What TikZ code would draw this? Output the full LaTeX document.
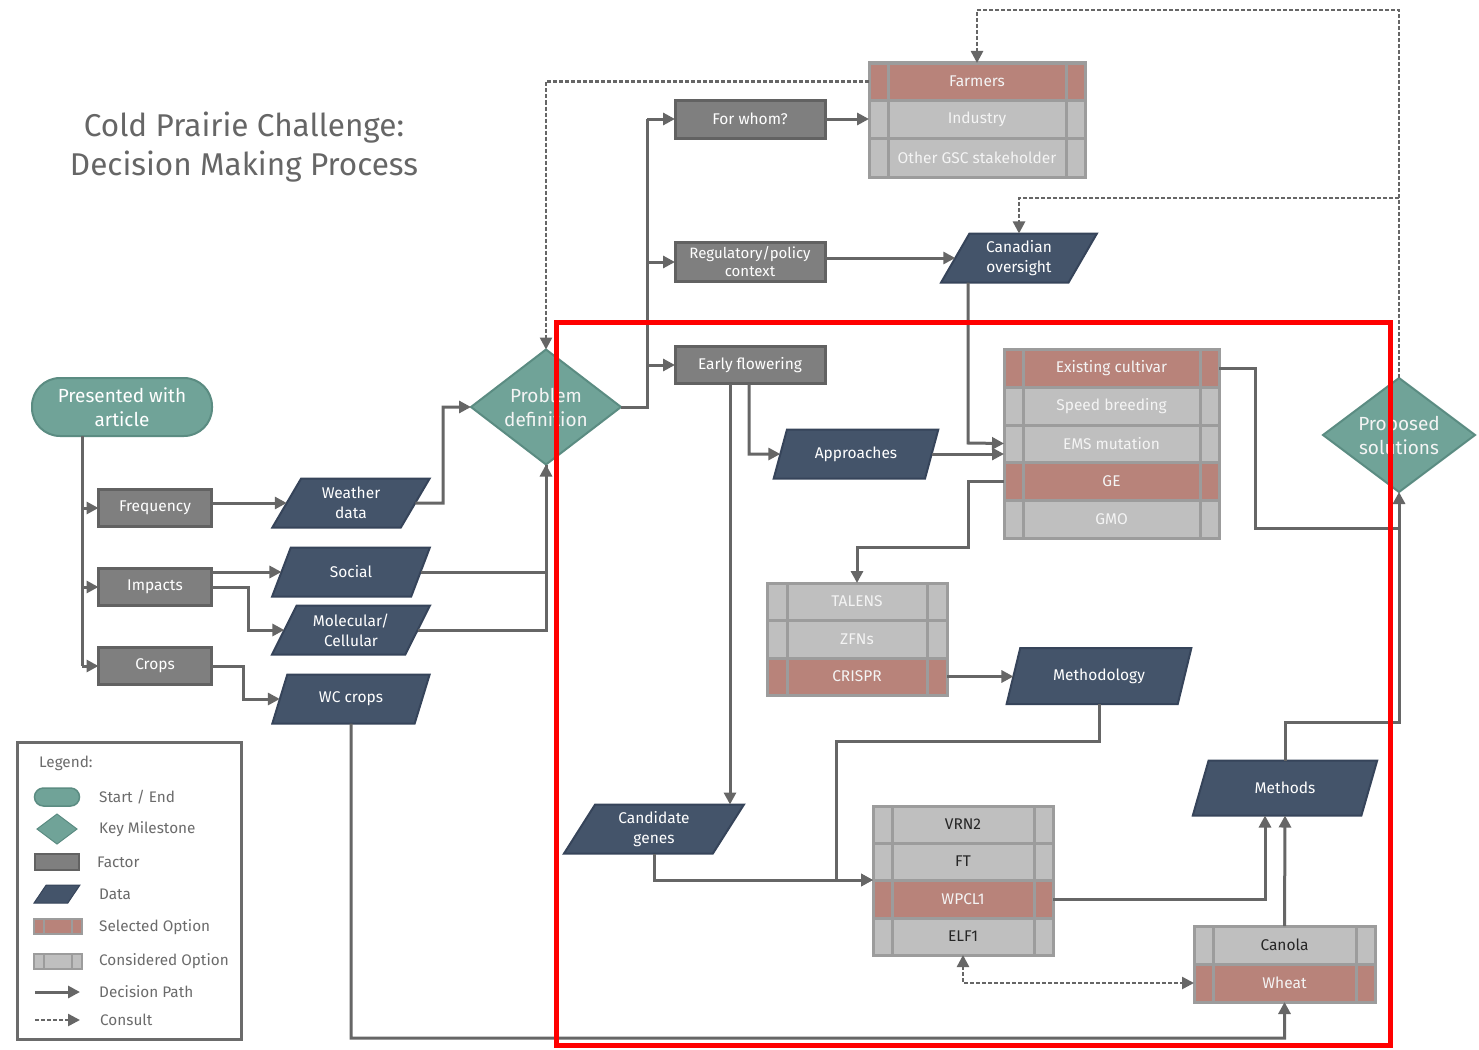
\documentclass[tikz,border=0pt]{standalone}
\usepackage{fontspec}
\setmainfont{Fira Sans}
\usetikzlibrary{shapes.geometric,shapes.misc,arrows.meta,calc}
\definecolor{cTeal}{HTML}{70A398}
\definecolor{cTealD}{HTML}{5B8C82}
\definecolor{cFac}{HTML}{7F7F7F}
\definecolor{cFacD}{HTML}{626262}
\definecolor{cData}{HTML}{44546A}
\definecolor{cDataD}{HTML}{36445A}
\definecolor{cSel}{HTML}{B8837A}
\definecolor{cCons}{HTML}{BFBFBF}
\definecolor{cBord}{HTML}{9C9C9C}
\definecolor{cLine}{HTML}{666666}
\definecolor{cTitle}{HTML}{666666}
\definecolor{cLeg}{HTML}{6B6B6B}
\definecolor{cTxtL}{HTML}{F4F4F4}
\definecolor{cTxtD}{HTML}{262626}
\newcommand{\optrow}[8]{%
  \node[#2, minimum width={(#4-#3-2*#7)*1pt}, minimum height={(#6-#5)*1pt}] (#1) at ({(#3+#4)/2},{(#5+#6)/2}) {#8};
  \node[#2, minimum width={#7*1pt}, minimum height={(#6-#5)*1pt}] (#1L) at ({#3+#7/2},{(#5+#6)/2}) {};
  \node[#2, minimum width={#7*1pt}, minimum height={(#6-#5)*1pt}] (#1R) at ({#4-#7/2},{(#5+#6)/2}) {};
}
\tikzset{
  base/.style={font=\fontsize{15.5}{20}\selectfont, align=center, inner sep=0pt, outer sep=0pt},
  startend/.style={base, rectangle, rounded corners=28pt, fill=cTeal, draw=cTealD, line width=2pt, text=white, font=\fontsize{19}{24}\selectfont, minimum width=180pt, minimum height=58pt},
  milestone/.style={base, diamond, shape aspect=1.3, fill=cTeal, draw=cTealD, line width=2pt, text=cTxtL, font=\fontsize{19}{24}\selectfont, minimum width=150pt, minimum height=115pt},
  factorbox/.style={base, rectangle, fill=cFac, draw=cFacD, line width=3pt, text=white, minimum width=113pt, minimum height=37pt},
  datab/.style={base, trapezium, trapezium left angle=62, trapezium right angle=118, trapezium stretches=true, fill=cData, draw=cDataD, line width=2pt, text=white, minimum width=156pt, minimum height=49pt},
  selrow/.style={base, rectangle, fill=cSel, draw=cBord, line width=3pt, text=cTxtL},
  consrow/.style={base, rectangle, fill=cCons, draw=cBord, line width=3pt, text=cTxtL},
  consdark/.style={consrow, text=cTxtD},
  wire/.style={draw=cLine, line width=3pt},
  arr/.style={wire, -{Triangle[length=12pt,width=12pt]}},
  consult/.style={draw=cLine, line width=2.5pt, dash pattern=on 4pt off 2pt, -{Triangle[length=12pt,width=12pt]}},
  legtext/.style={anchor=west, inner sep=0pt, text=cLeg, font=\fontsize{15.3}{18}\selectfont},
}
\begin{document}
\begin{tikzpicture}[x=1pt,y=-1pt]
\fill[white] (0,0) rectangle (1479,1049);
\useasboundingbox (0,0) rectangle (1479,1049);

% title
\node[font=\fontsize{31.5}{39}\selectfont, text=cTitle, align=center, inner sep=0pt] (title) at (244,147) {Cold Prairie Challenge:\\Decision Making Process};

% left part
\node[startend] (start) at (122,407) {Presented with\\article};
\node[factorbox] (freq) at (155,508) {Frequency};
\node[factorbox] (impacts) at (155,587) {Impacts};
\node[factorbox] (crops) at (155,666) {Crops};
\node[datab, minimum width=158pt] (wdata) at (351,503) {Weather\\data};
\node[datab, minimum width=158pt] (social) at (351,572) {Social};
\node[datab, minimum width=158pt] (mol) at (351,630) {Molecular/\\Cellular};
\node[datab, minimum width=158pt] (wc) at (351,699) {WC crops};

\node[milestone] (pd) at (546,407) {Problem\\definition};

\node[factorbox, minimum width=150pt, minimum height=38pt] (forwhom) at (750,119) {For whom?};
\node[factorbox, minimum width=150pt, minimum height=39pt, font=\fontsize{15}{18}\selectfont] (reg) at (750,262) {Regulatory/policy\\context};
\node[factorbox, minimum width=150pt, minimum height=37pt] (early) at (750,365) {Early flowering};

% stakeholder table
\optrow{farmers}{selrow}{869}{1085}{63}{100}{19}{Farmers}
\optrow{industry}{consrow}{869}{1085}{100}{138}{19}{Industry}
\optrow{other}{consrow}{869}{1085}{138}{177}{19}{Other GSC stakeholder}

\node[datab] (canada) at (1019,258) {Canadian\\oversight};
\node[datab, minimum width=166pt] (appr) at (856,454) {Approaches};

% approaches table
\optrow{excult}{selrow}{1004}{1219}{349}{387}{19}{Existing cultivar}
\optrow{speed}{consrow}{1004}{1219}{387}{425}{19}{Speed breeding}
\optrow{ems}{consrow}{1004}{1219}{425}{462}{19}{EMS mutation}
\optrow{ge}{selrow}{1004}{1219}{462}{500}{19}{GE}
\optrow{gmo}{consrow}{1004}{1219}{500}{538}{19}{GMO}

% editing tools table
\optrow{talens}{consrow}{767}{947}{583}{620}{20}{TALENS}
\optrow{zfns}{consrow}{767}{947}{620}{658}{20}{ZFNs}
\optrow{crispr}{selrow}{767}{947}{658}{695}{20}{CRISPR}

\node[datab, minimum width=185pt, minimum height=56pt] (mdl) at (1099,676) {Methodology};
\node[datab, minimum width=180pt] (cand) at (654,829) {Candidate\\genes};

% genes table
\optrow{vrn}{consdark}{873}{1053}{806}{843}{19}{VRN2}
\optrow{ft}{consdark}{873}{1053}{843}{880}{19}{FT}
\optrow{wpcl}{selrow}{873}{1053}{880}{918}{19}{WPCL1}
\optrow{elf}{consdark}{873}{1053}{918}{955}{19}{ELF1}

\node[datab, minimum width=185pt, minimum height=55pt] (methods) at (1285,788) {Methods};

% crop table
\optrow{canola}{consdark}{1194}{1375}{926}{964}{19}{Canola}
\optrow{wheat}{selrow}{1194}{1375}{964}{1002}{19}{Wheat}

\node[milestone, minimum width=152pt, minimum height=114pt] (ps) at (1399,435) {Proposed\\solutions};

% ---------- connectors ----------
\coordinate (trunk) at (82,666);
\draw[wire] (start.south -| trunk) -- (trunk);
\draw[arr] (freq.west -| trunk) -- (freq.west);
\draw[arr] (impacts.west -| trunk) -- (impacts.west);
\draw[arr] (crops.west -| trunk) -- (crops.west);

\draw[arr] (wdata.west -| freq.east) -- (wdata.west);
\draw[arr] (social.west -| impacts.east) -- (social.west);
\coordinate (im1) at (248,587);
\draw[arr] (impacts.east) -- (im1) |- (mol.west);
\coordinate (cr1) at (243,666);
\draw[arr] (crops.east) -- (cr1) |- (wc.west);

\coordinate (wd1) at (443,503);
\draw[arr] (wdata.east) -- (wd1) |- (pd.west);
\draw[arr] (social.east) -| (pd.south);
\draw[wire] (mol.east) -| (pd.south);

\coordinate (hub) at (647,407);
\draw[wire] (pd.east) -- (hub) -- (forwhom.west -| hub);
\draw[arr] (forwhom.west -| hub) -- (forwhom.west);
\draw[arr] (reg.west -| hub) -- (reg.west);
\draw[arr] (early.west -| hub) -- (early.west);

\draw[arr] (forwhom.east) -- (industryL.west);
\draw[consult] (farmersL.west) -| (pd.north);

\coordinate (top1) at (1399,10);
\coordinate (mid1) at (1399,198);
\draw[consult] (ps.north) -- (top1) -| (farmers.north);
\draw[consult] (mid1) -| (canada.north);

\draw[arr] (canada.west -| reg.east) -- (canada.west);
\coordinate (cx) at (968,443);
\draw[arr] (canada.south -| cx) -- (cx) -- (emsL.west);

\coordinate (e1) at (749,454);
\draw[arr] (early.south -| e1) -- (e1) -- (appr.west);
\coordinate (ex) at (730,0);
\draw[arr] (early.south -| ex) -- (cand.north -| ex);
\draw[arr] (appr.east) -- (appr.east -| emsL.west);

\coordinate (ec1) at (1255,528);
\draw[wire] (excultR.east) -| (ec1) -- (ec1 -| ps.south);
\coordinate (mj) at (1399,722);
\draw[arr] (methods.north) |- (mj) -- (ps.south);

\coordinate (g1) at (968,547);
\draw[arr] (geL.west) -| (g1) -| (talens.north);
\draw[arr] (crisprR.east) -- (crisprR.east -| mdl.west);

\coordinate (m2) at (836,741);
\coordinate (gin) at (873,880);
\draw[arr] (mdl.south) |- (m2) |- (gin);
\draw[arr] (cand.south) |- (gin);

\coordinate (w1) at (1265,0);
\draw[arr] (wpclR.east) -| (methods.south -| w1);
\draw[arr] (canola.north) -- (methods.south);

\draw[consult, {Triangle[length=12pt,width=12pt]}-{Triangle[length=12pt,width=12pt]}] (elf.south) |- (wheatL.west);

\coordinate (b1) at (351,1038);
\draw[arr] (wc.south) -- (b1) -| (wheat.south);

% ---------- legend ----------
\node[draw=cLeg, line width=3pt, minimum width=224pt, minimum height=297pt, anchor=north west, inner sep=0pt] (legbox) at (16,741) {};
\node[legtext] (lg0) at (39,763) {Legend:};
\node[startend, minimum width=45pt, minimum height=18pt, rounded corners=9pt, line width=1.5pt, inner sep=1pt] (lgi1) at (57,797) {};
\node[milestone, minimum width=40pt, minimum height=30pt, line width=1pt, inner sep=1pt] (lgi2) at (57,829) {};
\node[factorbox, minimum width=44pt, minimum height=16pt, line width=2pt, inner sep=1pt] (lgi3) at (57,862) {};
\node[datab, minimum width=46pt, minimum height=18pt, line width=1pt, inner sep=2pt] (lgi4) at (57,894) {\phantom{x}};
\optrow{lgs}{selrow, line width=1.5pt}{34}{82}{919}{934}{10}{}
\optrow{lgc}{consrow, line width=1.5pt}{34}{82}{954}{969}{10}{}
\coordinate (la1) at (35,992); \coordinate (la2) at (80,992);
\draw[arr] (la1) -- (la2);
\coordinate (lc1) at (35,1020); \coordinate (lc2) at (80,1020);
\draw[consult] (lc1) -- (lc2);
\node[legtext] (lt1) at (99,797) {Start / End};
\node[legtext] (lt2) at (99,829) {Key Milestone};
\node[legtext] (lt3) at (97,862) {Factor};
\node[legtext] (lt4) at (99,894) {Data};
\node[legtext] (lt5) at (99,927) {Selected Option};
\node[legtext] (lt6) at (99,961) {Considered Option};
\node[legtext] (lt7) at (99,992) {Decision Path};
\node[legtext] (lt8) at (100,1020) {Consult};

% red frame
\draw[red, line width=5pt] (556,322) rectangle (1390,1045);
\end{tikzpicture}
\end{document}
